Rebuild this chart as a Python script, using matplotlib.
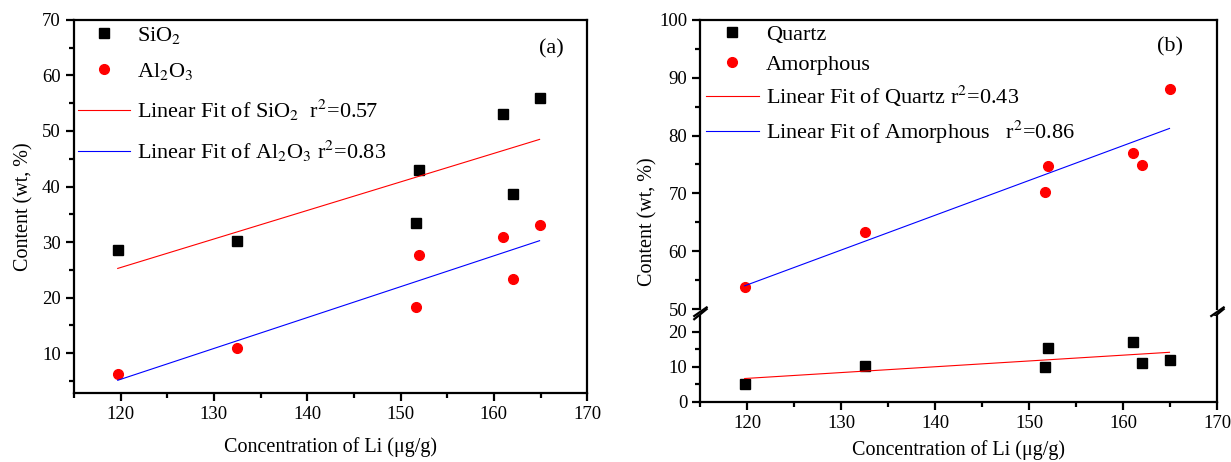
import numpy as np
import matplotlib
matplotlib.use('Agg')
import matplotlib.pyplot as plt
from matplotlib.ticker import MultipleLocator

plt.rcParams['font.family'] = 'Liberation Serif'
plt.rcParams['mathtext.fontset'] = 'stix'

# data
li = [119.7, 132.5, 151.7, 152.0, 161.0, 162.0, 164.9]
sio2 = [28.5, 30.2, 33.4, 43.0, 53.0, 38.6, 55.9]
al2o3 = [6.2, 10.9, 18.4, 27.6, 30.9, 23.3, 33.0]
quartz = [5.2, 10.2, 9.9, 15.3, 17.1, 11.0, 12.1]
amorphous = [53.8, 63.4, 70.2, 74.8, 77.0, 74.9, 88.0]

li = np.array(li)


def fit(x, y):
    a, b = np.polyfit(x, y, 1)
    xs = np.array([x.min(), x.max()])
    return xs, a * xs + b


def style(ax):
    for s in ax.spines.values():
        s.set_linewidth(1.6)
    ax.tick_params(axis='both', direction='out', width=1.6, length=6, labelsize=13.5,
                   top=False, right=False)
    ax.tick_params(which='minor', direction='out', width=1.6, length=3.5,
                   top=False, right=False)
    ax.set_xlim(115, 170)
    ax.xaxis.set_major_locator(MultipleLocator(10))
    ax.xaxis.set_minor_locator(MultipleLocator(5))


fig = plt.figure(figsize=(12.31, 4.62), dpi=100)

# ---- panel (a)
ax = fig.add_axes([0.060, 0.149, 0.417, 0.808])
ax.plot(li, sio2, 's', color='black', ms=7, label='SiO$_2$')
ax.plot(li, al2o3, 'o', color='red', ms=7, label='Al$_2$O$_3$')
xs, ys = fit(li, np.array(sio2))
ax.plot(xs, ys, color='red', lw=0.8, label='Linear Fit of SiO$_2$  r$^2$=0.57')
xs, ys = fit(li, np.array(al2o3))
ax.plot(xs, ys, color='blue', lw=0.8, label='Linear Fit of Al$_2$O$_3$ r$^2$=0.83')
style(ax)
ax.set_ylim(2.8, 70)
ax.yaxis.set_major_locator(MultipleLocator(10))
ax.yaxis.set_minor_locator(MultipleLocator(5))
ax.set_yticks([10, 20, 30, 40, 50, 60, 70])
ax.set_xlabel('Concentration of Li (μg/g)', fontsize=14.5, labelpad=10)
ax.set_ylabel('Content (wt, %)', fontsize=14.5, labelpad=6)
ax.text(0.93, 0.91, '(a)', transform=ax.transAxes, fontsize=16, ha='center')
ax.legend(loc='upper left', frameon=False, fontsize=16, handlelength=2.35,
          handletextpad=0.3, labelspacing=0.7, borderaxespad=0.0, borderpad=0.1,
          bbox_to_anchor=(0.003, 0.993))

# ---- panel (b), broken y axis
top = fig.add_axes([0.569, 0.331, 0.420, 0.626])
bot = fig.add_axes([0.569, 0.130, 0.420, 0.186], sharex=top)

h1, = bot.plot(li, quartz, 's', color='black', ms=7, label='Quartz')
h2, = top.plot(li, amorphous, 'o', color='red', ms=7, label='Amorphous')
xs, ys = fit(li, np.array(quartz))
h3, = bot.plot(xs, ys, color='red', lw=0.8, label='Linear Fit of Quartz r$^2$=0.43')
xs, ys = fit(li, np.array(amorphous))
h4, = top.plot(xs, ys, color='blue', lw=0.8, label='Linear Fit of Amorphous   r$^2$=0.86')

for a in (top, bot):
    style(a)
top.set_ylim(50, 100)
top.yaxis.set_major_locator(MultipleLocator(10))
top.yaxis.set_minor_locator(MultipleLocator(5))
bot.set_ylim(0, 24.5)
bot.yaxis.set_major_locator(MultipleLocator(10))
bot.yaxis.set_minor_locator(MultipleLocator(5))
top.spines['bottom'].set_visible(False)
bot.spines['top'].set_visible(False)
top.tick_params(axis='x', which='both', bottom=False, labelbottom=False)

# break marks
d = 0.012
kw = dict(color='black', lw=1.6, clip_on=False)
for xa in (0, 1):
    top.plot([xa - d, xa + d], [-0.035, 0.0], transform=top.transAxes, **kw)
    bot.plot([xa - d, xa + d], [1.0, 1.1], transform=bot.transAxes, **kw)

bot.set_xlabel('Concentration of Li (μg/g)', fontsize=14.5, labelpad=6)
fig.text(0.526, 0.52, 'Content (wt, %)', rotation=90, fontsize=14.5,
         ha='center', va='center')
top.text(0.909, 0.89, '(b)', transform=top.transAxes, fontsize=16, ha='center')
top.legend([h1, h2, h3, h4], [h.get_label() for h in (h1, h2, h3, h4)],
           loc='upper left', frameon=False, fontsize=16, handlelength=2.4,
           handletextpad=0.3, labelspacing=0.42, borderaxespad=0.0, borderpad=0.1,
           bbox_to_anchor=(0.006, 0.993))

fig.savefig('out.png', dpi=100)
